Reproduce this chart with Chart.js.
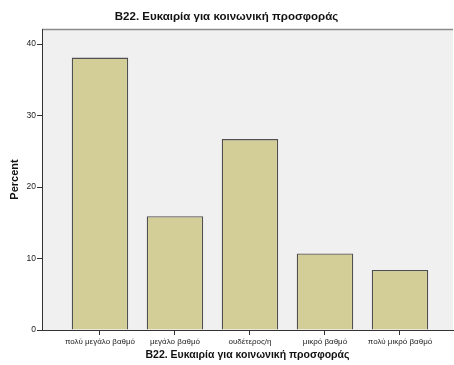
<!DOCTYPE html>
<html>
<head>
<meta charset="utf-8">
<script src="https://cdn.jsdelivr.net/npm/chart.js@4"></script>
<style>
html,body{margin:0;padding:0;background:#fff;}
#wrap{width:454px;height:365px;}
</style>
</head>
<body>
<div id="wrap"><canvas id="c" width="454" height="365"></canvas></div>
<script>
const chartTitle = "B22. Ευκαιρία για κοινωνική προσφοράς";
const categories = ["πολύ μεγάλο βαθμό", "μεγάλο βαθμό", "ουδέτερος/η", "μικρό βαθμό", "πολύ μικρό βαθμό"];
const percents = [38.1, 15.9, 26.7, 10.7, 8.4];
const yTicks = [0, 10, 20, 30, 40];

const FONT = "'Liberation Sans', Arial, Helvetica, sans-serif";

const plotBg = {
  id: 'plotBg',
  beforeDraw(chart) {
    const {ctx, chartArea: a} = chart;
    ctx.save();
    ctx.fillStyle = '#f0f0f0';
    ctx.fillRect(a.left, a.top, a.right - a.left, a.bottom - a.top);
    ctx.strokeStyle = '#8a8a8a';
    ctx.lineWidth = 1.5;
    ctx.beginPath();
    ctx.moveTo(a.left, a.top + 0.5);
    ctx.lineTo(a.right, a.top + 0.5);
    ctx.stroke();
    ctx.restore();
  }
};

new Chart(document.getElementById('c'), {
  type: 'bar',
  data: {
    datasets: [{
      data: percents.map((v, i) => ({x: i + 1, y: v})),
      backgroundColor: '#d3ce97',
      borderColor: '#505050',
      borderWidth: 1.3,
      barPercentage: 0.753,
      categoryPercentage: 1
    }]
  },
  plugins: [plotBg],
  options: {
    responsive: false,
    animation: false,
    devicePixelRatio: 1,
    layout: {padding: {left: 0, right: 1, top: 0, bottom: 0}},
    plugins: {
      legend: {display: false},
      tooltip: {enabled: false},
      title: {
        display: true,
        text: chartTitle,
        color: '#111',
        font: {family: FONT, size: 11.5, weight: 'bold'},
        padding: {top: 9.5, bottom: 5.7}
      }
    },
    scales: {
      x: {
        type: 'linear',
        offset: false,
        min: 0.227,
        max: 5.707,
        afterDataLimits(scale) { scale.min = 0.227; scale.max = 5.707; },
        afterBuildTicks(scale) {
          scale.ticks = categories.map((c, i) => ({value: i + 1}));
        },
        afterFit(scale) { scale.height = 35; },
        ticks: {
          autoSkip: false,
          maxRotation: 0,
          padding: 2,
          color: '#222',
          font: {family: FONT, size: 8},
          callback: (v) => categories[v - 1]
        },
        grid: {offset: false, drawOnChartArea: false, drawTicks: true, tickLength: 5, color: '#333', lineWidth: 1},
        border: {display: true, color: '#333', width: 1},
        title: {
          display: true,
          text: chartTitle,
          color: '#111',
          font: {family: FONT, size: 10.5, weight: 'bold'},
          padding: {top: 0, bottom: 4}
        }
      },
      y: {
        min: 0,
        max: 42.1,
        afterBuildTicks(scale) {
          scale.ticks = yTicks.map(v => ({value: v}));
        },
        afterFit(scale) { scale.width = 42; },
        ticks: {
          includeBounds: false,
          padding: 1,
          color: '#222',
          font: {family: FONT, size: 8.5}
        },
        grid: {drawOnChartArea: false, drawTicks: true, tickLength: 5, color: '#333', lineWidth: 1},
        border: {display: true, color: '#333', width: 1},
        title: {
          display: true,
          text: 'Percent',
          color: '#111',
          font: {family: FONT, size: 11, weight: 'bold'},
          padding: {top: 8, bottom: 0}
        }
      }
    }
  }
});
</script>
</body>
</html>
